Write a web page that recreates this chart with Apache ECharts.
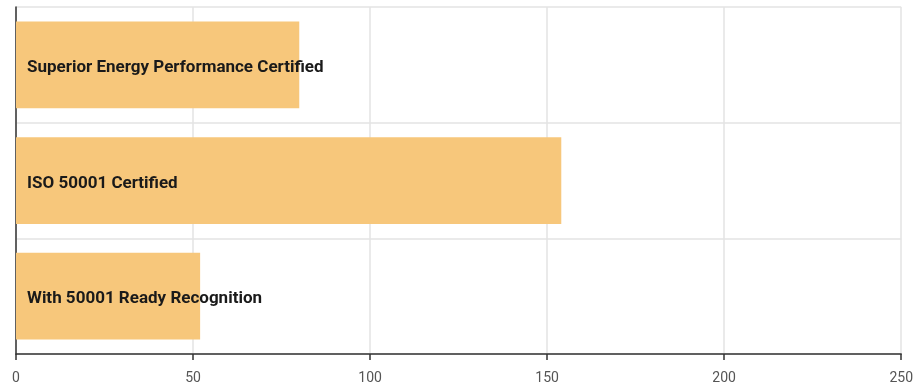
<!DOCTYPE html>
<html>
<head>
<meta charset="utf-8">
<script src="https://cdn.jsdelivr.net/npm/echarts@6/dist/echarts.min.js"></script>
<style>
  html, body { margin: 0; padding: 0; background: #fff; }
  #chart { width: 916px; height: 387px; }
</style>
</head>
<body>
<div id="chart"></div>
<script>
// Recognition categories, listed top to bottom
const categories = [
  'Superior Energy Performance Certified',
  'ISO 50001 Certified',
  'With 50001 Ready Recognition'
];
// Number of facilities in each category
const values = [80, 154, 52];
// Value axis range
const axisMin = 0;
const axisMax = 250;
const axisStep = 50;

const chart = echarts.init(document.getElementById('chart'));
chart.setOption({
  animation: false,
  grid: { left: 16, right: 12, top: 7, bottom: 33, containLabel: false },
  xAxis: {
    type: 'value',
    min: axisMin,
    max: axisMax,
    interval: axisStep,
    axisLine: { show: true, lineStyle: { color: '#333', width: 1.5 } },
    axisTick: { show: true, length: 6, lineStyle: { color: '#333', width: 1.5 } },
    axisLabel: { color: '#555', fontFamily: 'Roboto', fontSize: 14, margin: 17 },
    splitLine: { show: true, lineStyle: { color: '#e3e3e3', width: 1.5 } }
  },
  yAxis: {
    type: 'category',
    data: categories,
    inverse: true,
    axisLine: { show: true, lineStyle: { color: '#333', width: 1.5 } },
    axisTick: { show: false },
    axisLabel: { show: false },
    splitLine: { show: true, lineStyle: { color: '#e3e3e3', width: 1.5 } }
  },
  series: [{
    type: 'bar',
    data: values,
    barCategoryGap: '25%',
    itemStyle: { color: '#F7C77B' },
    label: {
      show: true,
      position: 'insideLeft',
      offset: [6, 3],
      formatter: p => p.name,
      color: '#1a1a1a',
      fontFamily: 'Roboto',
      fontWeight: 'bold',
      fontSize: 17
    }
  }]
});
</script>
</body>
</html>
